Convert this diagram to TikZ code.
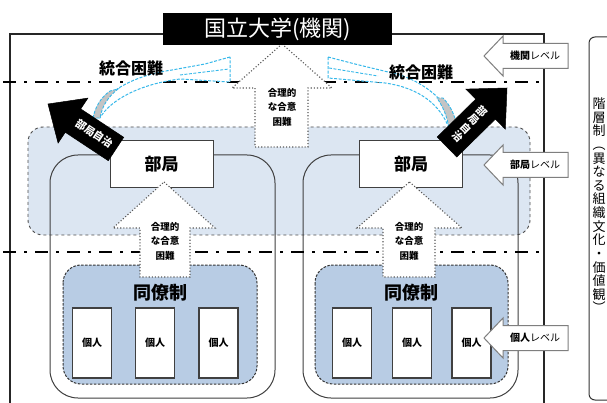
\documentclass[tikz,border=0pt]{standalone}
\usepackage{fontspec}
\setmainfont{Noto Sans CJK JP}
\newfontfamily\jp{Noto Sans CJK JP}
\definecolor{band}{HTML}{DCE6F2}
\definecolor{colleg}{HTML}{B8CCE4}
\definecolor{cyanl}{HTML}{35B8EA}
\definecolor{grayf}{HTML}{C4C4C4}
\definecolor{lblgray}{HTML}{7F7F7F}
\tikzset{
  frameline/.style={draw=black!85,line width=1.3pt},
  levelline/.style={draw=black,line width=2.7pt,dash pattern=on 13pt off 8pt on 3pt off 8pt},
  bandbox/.style={fill=band,draw=black!70,dashed,line width=0.9pt,rounded corners=15pt},
  deptbox/.style={draw=black!75,line width=1pt,rounded corners=28pt},
  collbox/.style={fill=colleg,draw=black!80,dash pattern=on 2.5pt off 1.5pt,line width=1pt,rounded corners=18pt},
  indiv/.style={draw=black!75,fill=white,line width=1.2pt,minimum width=39pt,minimum height=70pt,inner sep=0pt,font=\bfseries\fontsize{10}{12}\selectfont},
  bukyoku/.style={draw=black!75,fill=white,line width=1pt,minimum width=103pt,minimum height=47pt,inner sep=0pt,font=\bfseries\fontsize{17}{20}\selectfont},
  uparrowshape/.style={fill=white,draw=black!65,dotted,line width=1.1pt},
  arrowtext/.style={align=center,inner sep=0pt,font=\bfseries\fontsize{9.5}{14.5}\selectfont},
  cyanshape/.style={fill=white,draw=cyanl,dash pattern=on 3pt off 1.5pt,line width=1pt},
  grayshape/.style={fill=grayf,draw=cyanl,dash pattern=on 3pt off 1.5pt,line width=0.9pt},
  blackarrow/.style={fill=black,draw=black,line width=0.5pt},
  blacktext/.style={text=white,inner sep=0pt,font=\bfseries\fontsize{10.5}{11.5}\selectfont},
  levellabel/.style={fill=white,draw=lblgray,line width=1pt},
  leveltext/.style={inner sep=0pt,font=\fontsize{10}{12}\selectfont},
  difficult/.style={inner sep=0pt,font=\bfseries\fontsize{16}{18}\selectfont},
  vchar/.style={inner sep=0pt,text height=9.5pt,text depth=1.5pt,font=\fontsize{13}{14}\selectfont},
}
\begin{document}
\begin{tikzpicture}[x=1pt,y=-1pt]
\clip (0,0) rectangle (607,403);
\fill[white] (0,0) rectangle (607,403);

% outer frame
\draw[frameline] (10,420) -- (10,34) -- (544,34) -- (544,420);
% right tall box
\draw[draw=black!80,line width=1pt,rounded corners=6pt] (589,37) rectangle (640,400);
\foreach \c [count=\i] in {階,層,制,︵,異,な,る,組,織,文,化,・,価,値,観,︶}
  \node[vchar] (h\i) at ({599},{91.2+13.6*\i}) {\c};

% department level band
\path[bandbox] (28,127) rectangle (530,235);

% department outer frames
\draw[deptbox] (50,155) rectangle (275,398);
\draw[deptbox] (303,155) rectangle (518,398);

% collegial boxes
\path[collbox] (63,265) rectangle (257,384);
\path[collbox] (315,265) rectangle (508,384);
\node[inner sep=0pt,font=\bfseries\fontsize{18}{20}\selectfont] (colL) at (160,293) {同僚制};
\node[inner sep=0pt,font=\bfseries\fontsize{18}{20}\selectfont] (colR) at (411,293) {同僚制};

% individuals
\node[indiv] (i1) at (92,343) {個人};
\node[indiv] (i2) at (155,343) {個人};
\node[indiv] (i3) at (218.5,343) {個人};
\node[indiv] (i4) at (352,343) {個人};
\node[indiv] (i5) at (412,343) {個人};
\node[indiv] (i6) at (471.5,343) {個人};

% level separator lines
\draw[levelline] (3,82) -- (541,82);
\draw[levelline] (3,252) -- (541,252);

% 部局 boxes
\node[bukyoku] (bL) at (161.5,164.5) {部局};
\node[bukyoku] (bR) at (411,164.5) {部局};

% white up arrows
\path[uparrowshape] (164,182) -- (215,228) -- (190,228) -- (190,277) -- (140,277) -- (140,228) -- (113,228) -- cycle;
\node[arrowtext] (aL) at (165,241) {合理的\\な合意\\困難};
\path[uparrowshape] (409.5,182) -- (462,228) -- (435,228) -- (435,277) -- (383,277) -- (383,228) -- (357,228) -- cycle;
\node[arrowtext] (aR) at (409,241) {合理的\\な合意\\困難};
\path[uparrowshape] (282,44) -- (332,88) -- (308,88) -- (308,147) -- (255,147) -- (255,88) -- (232,88) -- cycle;
\node[arrowtext] (aT) at (282,107) {合理的\\な合意\\困難};

% title
\node[fill=black,text=white,minimum width=229pt,minimum height=32pt,inner sep=0pt,
      font=\fontsize{22}{24}\selectfont] (title) at (277.5,29) {国立大学(機関)};

% cyan curved shapes
\path[cyanshape] (230,57) -- (205,64) -- (172,70) .. controls (130,76) and (100,95) .. (93,118)
  -- (100,118) .. controls (110,100) and (140,84) .. (180,79) -- (230,82) -- cycle;
\draw[cyanl,dash pattern=on 3pt off 1.5pt,line width=0.9pt] (180,75) -- (229,69);
\path[grayshape] (93,118) .. controls (95,108) and (100,98) .. (110,91) -- (118,89)
  .. controls (108,97) and (102,106) .. (100,118) -- cycle;

\path[cyanshape] (328,57) -- (355,64) -- (388,72) .. controls (420,78) and (448,100) .. (457,127)
  -- (449,128) .. controls (440,105) and (420,88) .. (385,83) -- (328,78) -- cycle;
\draw[cyanl,dash pattern=on 3pt off 1.5pt,line width=0.9pt] (329,68) -- (378,76);
\path[grayshape] (457,127) .. controls (455,115) and (450,105) .. (443,98) -- (437,98)
  .. controls (443,107) and (447,116) .. (449,128) -- cycle;

\node[difficult] (dL) at (131,68) {統合困難};
\node[difficult] (dR) at (421,72) {統合困難};

% black arrows
\path[blackarrow] (48,104) -- (87.9,98.1) -- (80.7,108.9) -- (123.7,137.3) -- (108.3,160.7)
  -- (65.3,132.3) -- (58.1,143.1) -- cycle;
\node[blacktext,rotate=-33.5,text height=8pt,text depth=1pt] (autoL) at (94,134) {部局自治};
\path[blackarrow] (507,88) -- (465.9,89.1) -- (475.8,99.1) -- (437.2,137) -- (456.8,157)
  -- (495.4,119.1) -- (505.3,129.1) -- cycle;
\node[blacktext,rotate=-45.6,align=center] (autoR) at (470,124) {部\\局\\自\\治};

% level labels
\path[levellabel] (484,56) -- (503,36) -- (503,43.5) -- (568,43.5) -- (568,68.5) -- (503,68.5) -- (503,76) -- cycle;
\node[leveltext] (lv1) at (535,56) {\textbf{機関}レベル};
\path[levellabel] (484,165) -- (503,145) -- (503,152.5) -- (568,152.5) -- (568,177.5) -- (503,177.5) -- (503,185) -- cycle;
\node[leveltext] (lv2) at (535,165) {\textbf{部局}レベル};
\path[levellabel] (484,338) -- (503,318) -- (503,325.5) -- (568,325.5) -- (568,350.5) -- (503,350.5) -- (503,358) -- cycle;
\node[leveltext] (lv3) at (535,338) {\textbf{個人}レベル};
\end{tikzpicture}
\end{document}
